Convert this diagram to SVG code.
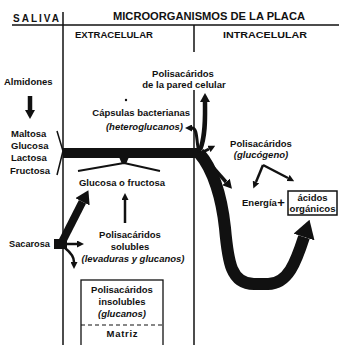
<svg xmlns="http://www.w3.org/2000/svg" width="339" height="345" viewBox="0 0 339 345">
<style>
text{font-family:"Liberation Sans",Arial,sans-serif;font-weight:bold;font-size:9.5px;fill:#111}
.h{font-size:10px}
.it{font-style:italic}
.c{text-anchor:middle}
.e{text-anchor:end}
.ln{stroke:#111;fill:none}
.ar{stroke:#111;fill:none;stroke-linecap:butt;stroke-linejoin:round}
</style>
<defs>
<marker id="hS" viewBox="0 0 10 10" refX="0" refY="5" markerWidth="7" markerHeight="7" markerUnits="userSpaceOnUse" orient="auto"><path d="M0,0 L10,5 L0,10 z" fill="#111"/></marker>
<marker id="hM" viewBox="0 0 10 10" refX="0" refY="5" markerWidth="9" markerHeight="10" markerUnits="userSpaceOnUse" orient="auto" preserveAspectRatio="none"><path d="M0,0 L10,5 L0,10 z" fill="#111"/></marker>
<marker id="hT" viewBox="0 0 10 10" refX="0" refY="5" markerWidth="13" markerHeight="16" markerUnits="userSpaceOnUse" orient="auto" preserveAspectRatio="none"><path d="M0,0 L10,5 L0,10 z" fill="#111"/></marker>
<marker id="hL" viewBox="0 0 10 10" refX="0" refY="5" markerWidth="18" markerHeight="22" markerUnits="userSpaceOnUse" orient="auto" preserveAspectRatio="none"><path d="M0,0 L10,5 L0,10 z" fill="#111"/></marker>
</defs>
<rect width="339" height="345" fill="#fff"/>
<g id="frame">
<line class="ln" x1="12" y1="25" x2="339" y2="25" stroke-width="1.5"/>
<line class="ln" x1="63" y1="12" x2="63" y2="345" stroke-width="1.5"/>
<line class="ln" x1="194" y1="25" x2="194" y2="52" stroke-width="1.5"/>
<line class="ln" x1="194" y1="90" x2="194" y2="345" stroke-width="1.5"/>
<text class="h c" x="36" y="22" textLength="46" lengthAdjust="spacing">SALIVA</text>
<text class="h c" x="209" y="20" textLength="192" lengthAdjust="spacingAndGlyphs">MICROORGANISMOS DE LA PLACA</text>
<text class="c" x="114" y="38" textLength="78" lengthAdjust="spacingAndGlyphs">EXTRACELULAR</text>
<text class="c" x="265" y="38" textLength="84" lengthAdjust="spacingAndGlyphs">INTRACELULAR</text>
</g>
<g id="almidones"><text x="4" y="85">Almidones</text></g>
<g id="azucares">
<text x="11" y="137">Maltosa</text>
<text x="11" y="149">Glucosa</text>
<text x="11" y="161">Lactosa</text>
<text x="10" y="174">Fructosa</text>
</g>
<g id="pared">
<text class="c" x="183" y="77">Polisacáridos</text>
<text class="c" x="184" y="88">de la pared celular</text>
</g>
<g id="capsulas">
<circle cx="126" cy="100" r="1.2" fill="#111"/>
<text class="e" x="190" y="116">Cápsulas bacterianas</text>
<text class="e it" x="183" y="130">(heteroglucanos)</text>
</g>
<g id="glucosa"><text class="c" x="122" y="186">Glucosa o fructosa</text></g>
<g id="glucogeno">
<text class="c" x="261" y="147">Polisacáridos</text>
<text class="c it" x="261" y="158">(glucógeno)</text>
</g>
<g id="energia">
<text x="242" y="206">Energía</text>
<text class="c" x="281" y="207" style="font-size:13px">+</text>
</g>
<g id="acidos">
<rect x="288" y="191" width="49" height="24" fill="none" stroke="#111" stroke-width="1.5"/>
<text class="c" x="312.5" y="201">ácidos</text>
<text class="c" x="312.5" y="212" textLength="46" lengthAdjust="spacingAndGlyphs">orgánicos</text>
</g>
<g id="sacarosa">
<text x="9" y="247" textLength="41" lengthAdjust="spacingAndGlyphs">Sacarosa</text>
<rect x="54" y="239" width="13" height="10" fill="#111"/>
</g>
<g id="solubles">
<text class="c" x="130" y="238">Polisacáridos</text>
<text class="c" x="130" y="250">solubles</text>
<text class="c it" x="133" y="262">(levaduras y glucanos)</text>
</g>
<g id="insolubles">
<rect x="81" y="280" width="82" height="72" fill="none" stroke="#111" stroke-width="1.3"/>
<text class="c" x="122" y="293">Polisacáridos</text>
<text class="c" x="122" y="305">insolubles</text>
<text class="c it" x="122" y="317">(glucanos)</text>
<line class="ln" x1="81" y1="325" x2="163" y2="325" stroke-width="1.2" stroke-dasharray="4 3"/>
<text class="c" x="122" y="337" textLength="31" lengthAdjust="spacing">Matriz</text>
</g>
<g id="connectors">
<path class="ar" d="M30,96 L30,110" stroke-width="4.5" marker-end="url(#hM)"/>
<path class="ar" d="M57,131 L63,151 L57,175" stroke-width="1.5"/>
<path class="ar" d="M63,153 L201,153" stroke-width="10"/>
<polygon points="119,157 129,157 126,164 122,164" fill="#111"/>
<path class="ar" d="M124,163 L78,171 M124,163 L160,171" stroke-width="1.8"/>
<path class="ar" d="M200,150 C206,135 205,115 205,102" stroke-width="4.5" marker-end="url(#hM)"/>
<path class="ar" d="M199,152 C196,142 198,128 192,128" stroke-width="3" marker-end="url(#hS)"/>
<path class="ar" d="M203,152 L209,149" stroke-width="3" marker-end="url(#hS)"/>
<path class="ar" d="M203,156 L226,182" stroke-width="3.5" marker-end="url(#hM)"/>
<path class="ar" d="M199,153 C214,170 222,200 225,228 C228,262 231,284 254,284 L268,284 C288,284 296,262 304,237" stroke-width="12" marker-end="url(#hL)"/>
<path class="ar" d="M263,165 L256,182" stroke-width="2.5" marker-end="url(#hS)"/>
<path class="ar" d="M263,165 L288,178" stroke-width="2.5" marker-end="url(#hS)"/>
<path class="ar" d="M62,242 L82.5,201.8" stroke-width="8" marker-end="url(#hT)"/>
<path class="ar" d="M67,244 L77,244" stroke-width="2.5" marker-end="url(#hS)"/>
<path class="ar" d="M65,248 C70,252 74,256 74,262" stroke-width="2.5" marker-end="url(#hS)"/>
<path class="ar" d="M125,223 L125,200" stroke-width="2.5" marker-end="url(#hS)"/>
</g>
</svg>
